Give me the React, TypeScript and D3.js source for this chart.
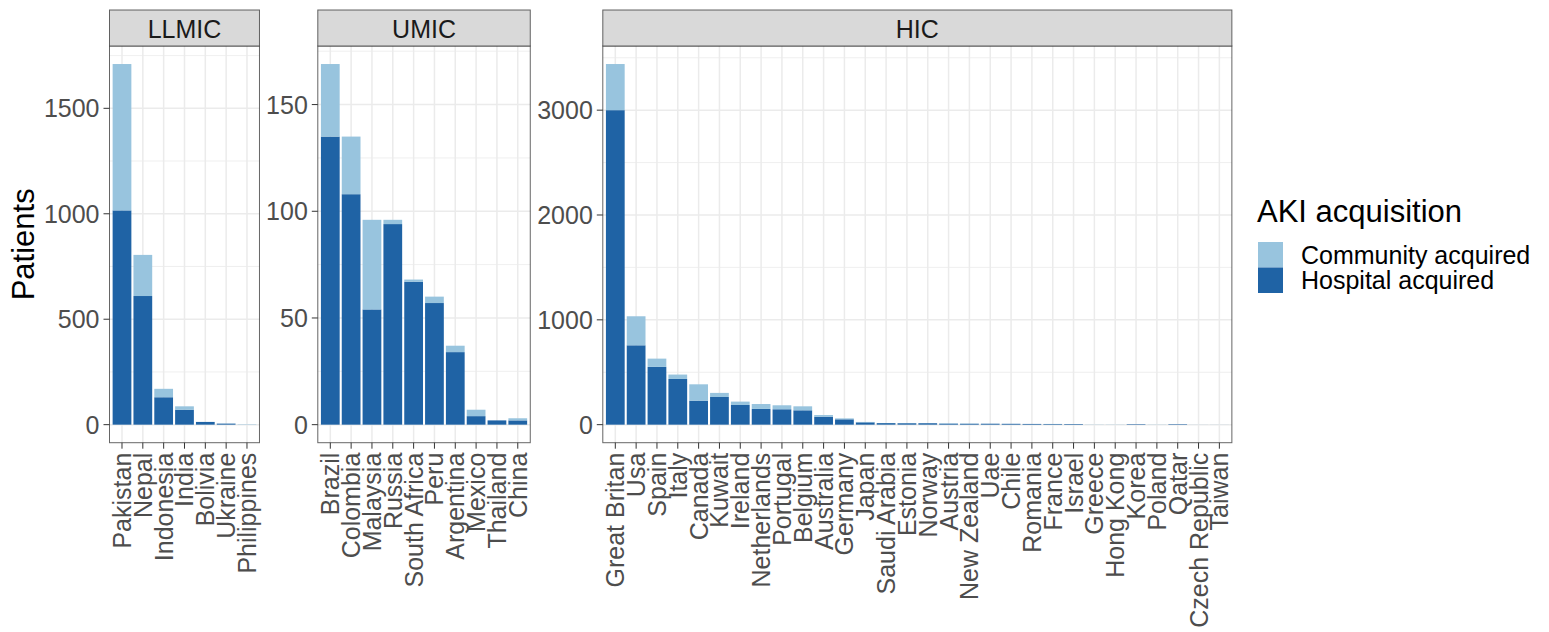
import React from 'react';
import * as d3 from 'd3';

// ---------- data ----------
const llmicCountries = ['Pakistan', 'Nepal', 'Indonesia', 'India', 'Bolivia', 'Ukraine', 'Philippines'];
const llmicHospital = [1016, 610, 130, 71, 13, 5, 0];
const llmicCommunity = [694, 195, 40, 16, 0, 1, 2];
const llmicTicks = [0, 500, 1000, 1500];

const umicCountries = ['Brazil', 'Colombia', 'Malaysia', 'Russia', 'South Africa', 'Peru', 'Argentina', 'Mexico', 'Thailand', 'China'];
const umicHospital = [135, 108, 54, 94, 67, 57, 34, 4, 2, 2];
const umicCommunity = [34, 27, 42, 2, 1, 3, 3, 3, 0, 1];
const umicTicks = [0, 50, 100, 150];

const hicCountries = ['Great Britan', 'Usa', 'Spain', 'Italy', 'Canada', 'Kuwait', 'Ireland', 'Netherlands', 'Portugal', 'Belgium', 'Australia', 'Germany', 'Japan', 'Saudi Arabia', 'Estonia', 'Norway', 'Austria', 'New Zealand', 'Uae', 'Chile', 'Romania', 'France', 'Israel', 'Greece', 'Hong Kong', 'Korea', 'Poland', 'Qatar', 'Czech Republic', 'Taiwan'];
const hicHospital = [3000, 757, 551, 436, 229, 264, 188, 150, 147, 137, 76, 51, 22, 15, 14, 14, 10, 9, 9, 8, 7, 6, 6, 0, 0, 5, 0, 5, 0, 0];
const hicCommunity = [440, 277, 79, 42, 156, 39, 32, 47, 38, 38, 16, 9, 4, 1, 2, 1, 3, 2, 1, 1, 0, 1, 0, 2, 2, 0, 2, 0, 1, 1];
const hicTicks = [0, 1000, 2000, 3000];

const panelNames = ['LLMIC', 'UMIC', 'HIC'];
const legendLabels = ['Community acquired', 'Hospital acquired'];

// ---------- style ----------
const FONT = '"Liberation Sans", Arial, Helvetica, sans-serif';
const COL_COMM = '#98C4DE';
const COL_HOSP = '#1F63A5';
const GRID = '#EBEBEB';
const BORDER = '#333333';
const STEP = 20.83;
const PANEL_TOP = 46;
const PANEL_BOTTOM = 442.7;
const STRIP_TOP = 10;
const TXT = 25;
const TITLE = 31;

type PanelDef = {
  name: string;
  countries: string[];
  hosp: number[];
  comm: number[];
  ticks: number[];
  left: number;
};

const panels: PanelDef[] = [
  { name: panelNames[0], countries: llmicCountries, hosp: llmicHospital, comm: llmicCommunity, ticks: llmicTicks, left: 109.5 },
  { name: panelNames[1], countries: umicCountries, hosp: umicHospital, comm: umicCommunity, ticks: umicTicks, left: 317.8 },
  { name: panelNames[2], countries: hicCountries, hosp: hicHospital, comm: hicCommunity, ticks: hicTicks, left: 602.8 },
];

function Panel({ p }: { p: PanelDef }) {
  const width = (p.countries.length + 0.2) * STEP;
  const right = p.left + width;
  const x = d3.scalePoint<string>().domain(p.countries).range([p.left, right]).padding(0.6);
  const totals = p.hosp.map((h, i) => h + p.comm[i]);
  const maxV = d3.max(totals) as number;
  const y = d3.scaleLinear().domain([-0.05 * maxV, 1.05 * maxV]).range([PANEL_BOTTOM, PANEL_TOP]);
  const stepT = p.ticks[1] - p.ticks[0];
  const minor: number[] = [];
  for (let v = p.ticks[0] - stepT / 2; v <= p.ticks[p.ticks.length - 1] + stepT; v += stepT) {
    if (v >= y.domain()[0] && v <= y.domain()[1]) minor.push(v);
  }
  const bw = STEP * 0.9;
  return (
    <g>
      <rect x={p.left} y={PANEL_TOP} width={width} height={PANEL_BOTTOM - PANEL_TOP} fill="#FFFFFF" />
      {minor.map((v) => (
        <line key={'mi' + v} x1={p.left} x2={right} y1={y(v)} y2={y(v)} stroke={GRID} strokeWidth={0.8} />
      ))}
      {p.ticks.map((v) => (
        <line key={'ma' + v} x1={p.left} x2={right} y1={y(v)} y2={y(v)} stroke={GRID} strokeWidth={1.5} />
      ))}
      {p.countries.map((c) => (
        <line key={'vx' + c} x1={x(c)} x2={x(c)} y1={PANEL_TOP} y2={PANEL_BOTTOM} stroke={GRID} strokeWidth={1.5} />
      ))}
      {p.countries.map((c, i) => {
        const cx = x(c) as number;
        const h = p.hosp[i];
        const t = totals[i];
        return (
          <g key={'b' + c}>
            {h > 0 && <rect x={cx - bw / 2} y={y(h)} width={bw} height={y(0) - y(h)} fill={COL_HOSP} />}
            {p.comm[i] > 0 && <rect x={cx - bw / 2} y={y(t)} width={bw} height={y(h) - y(t)} fill={COL_COMM} />}
          </g>
        );
      })}
      <rect x={p.left} y={PANEL_TOP} width={width} height={PANEL_BOTTOM - PANEL_TOP} fill="none" stroke={BORDER} strokeWidth={1} strokeOpacity={0.75} />
      <rect x={p.left} y={STRIP_TOP} width={width} height={PANEL_TOP - STRIP_TOP} fill="#D9D9D9" stroke={BORDER} strokeWidth={1} strokeOpacity={0.75} />
      <text x={(p.left + right) / 2} y={(STRIP_TOP + PANEL_TOP) / 2 + 1} textAnchor="middle" dominantBaseline="central" fontSize={TXT} fill="#1A1A1A" fontFamily={FONT}>
        {p.name}
      </text>
      {p.ticks.map((v) => (
        <g key={'yt' + v}>
          <line x1={p.left - 6} x2={p.left} y1={y(v)} y2={y(v)} stroke={BORDER} strokeWidth={1} />
          <text x={p.left - 10} y={y(v)} textAnchor="end" dominantBaseline="central" fontSize={TXT} fill="#4D4D4D" fontFamily={FONT}>
            {v}
          </text>
        </g>
      ))}
      {p.countries.map((c) => (
        <g key={'xt' + c}>
          <line x1={x(c)} x2={x(c)} y1={PANEL_BOTTOM} y2={PANEL_BOTTOM + 6} stroke={BORDER} strokeWidth={1} />
          <text
            transform={`translate(${x(c)},${PANEL_BOTTOM + 10}) rotate(-90)`}
            textAnchor="end"
            dominantBaseline="central"
            fontSize={TXT}
            fill="#4D4D4D"
            fontFamily={FONT}
          >
            {c}
          </text>
        </g>
      ))}
    </g>
  );
}

export default function App() {
  const legendColors = [COL_COMM, COL_HOSP];
  return (
    <svg width={1549} height={632} style={{ position: 'absolute', left: 0, top: 0, background: '#FFFFFF' }} fontFamily={FONT}>
      <rect x={0} y={0} width={1549} height={632} fill="#FFFFFF" />
      {panels.map((p) => (
        <Panel key={p.name} p={p} />
      ))}
      <text transform={`translate(23,${(PANEL_TOP + PANEL_BOTTOM) / 2}) rotate(-90)`} textAnchor="middle" dominantBaseline="central" fontSize={TITLE} fill="#000000" fontFamily={FONT}>
        Patients
      </text>
      <text x={1257} y={222} fontSize={TITLE} fill="#000000" fontFamily={FONT}>
        AKI acquisition
      </text>
      {legendLabels.map((l, i) => (
        <g key={l}>
          <rect x={1258} y={242 + i * 25.5} width={25} height={25.5} fill={legendColors[i]} />
          <text x={1301} y={242 + i * 25.5 + 12.75} dominantBaseline="central" fontSize={TXT} fill="#000000" fontFamily={FONT}>
            {l}
          </text>
        </g>
      ))}
    </svg>
  );
}
